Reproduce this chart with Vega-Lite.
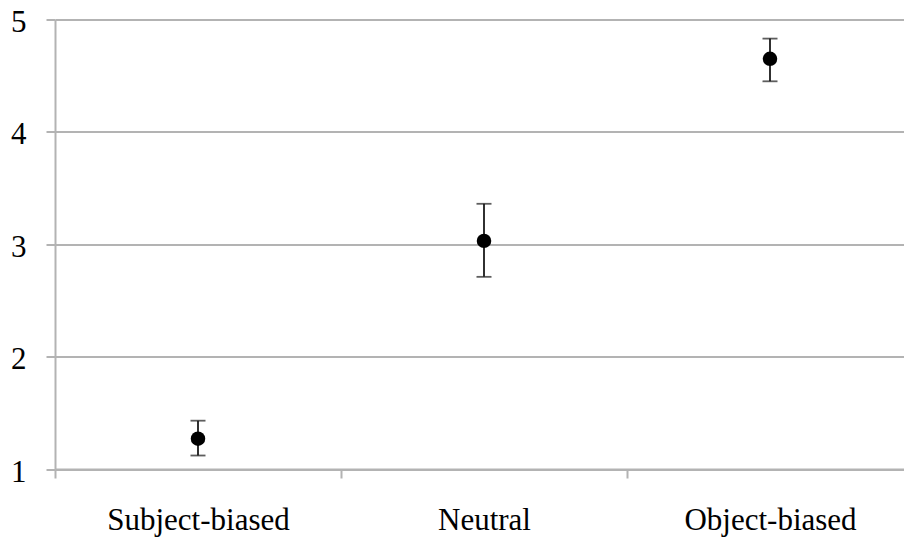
{
  "$schema": "https://vega.github.io/schema/vega-lite/v6.json",
  "width": 849,
  "height": 449.5,
  "autosize": "none",
  "padding": {"left": 55, "top": 19.5, "right": 0, "bottom": 68},
  "background": "white",
  "config": {"view": {"stroke": null}},
  "data": {
    "values": [
      {"condition": "Subject-biased", "mean": 1.27, "lo": 1.12, "hi": 1.43},
      {"condition": "Neutral", "mean": 3.03, "lo": 2.71, "hi": 3.36},
      {"condition": "Object-biased", "mean": 4.65, "lo": 4.45, "hi": 4.83}
    ]
  },
  "encoding": {
    "x": {
      "field": "condition",
      "type": "nominal",
      "sort": ["Subject-biased", "Neutral", "Object-biased"],
      "scale": {"paddingInner": 0, "paddingOuter": 0, "range": [0, 858]},
      "axis": {
        "title": null,
        "labelAngle": 0,
        "labelFont": "Liberation Serif",
        "labelFontSize": 31,
        "labelColor": "#000000",
        "labelPadding": 27,
        "labelLimit": 400,
        "domainColor": "#b3b3b3",
        "domainWidth": 2,
        "tickColor": "#b3b3b3",
        "tickWidth": 2,
        "tickSize": 9,
        "tickBand": "extent",
        "grid": false
      }
    }
  },
  "layer": [
    {
      "mark": {"type": "rule", "color": "#1a1a1a", "strokeWidth": 1.8},
      "encoding": {
        "y": {
          "field": "lo",
          "type": "quantitative",
          "scale": {"domain": [1, 5], "nice": false, "zero": false},
          "axis": {
            "title": null,
            "values": [1, 2, 3, 4, 5],
            "format": "d",
            "labelFont": "Liberation Serif",
            "labelFontSize": 31,
            "labelColor": "#000000",
            "labelPadding": 20,
            "labelOffset": 3,
            "domainColor": "#b3b3b3",
            "domainWidth": 2,
            "tickColor": "#b3b3b3",
            "tickWidth": 2,
            "tickSize": 9,
            "gridColor": "#b3b3b3",
            "gridWidth": 2,
            "gridOpacity": 1
          }
        },
        "y2": {"field": "hi"}
      }
    },
    {
      "mark": {"type": "tick", "color": "#1a1a1a", "size": 15, "thickness": 1.8, "orient": "horizontal"},
      "encoding": {"y": {"field": "lo", "type": "quantitative"}}
    },
    {
      "mark": {"type": "tick", "color": "#1a1a1a", "size": 15, "thickness": 1.8, "orient": "horizontal"},
      "encoding": {"y": {"field": "hi", "type": "quantitative"}}
    },
    {
      "mark": {"type": "circle", "color": "#000000", "opacity": 1, "size": 210},
      "encoding": {"y": {"field": "mean", "type": "quantitative"}}
    }
  ]
}
